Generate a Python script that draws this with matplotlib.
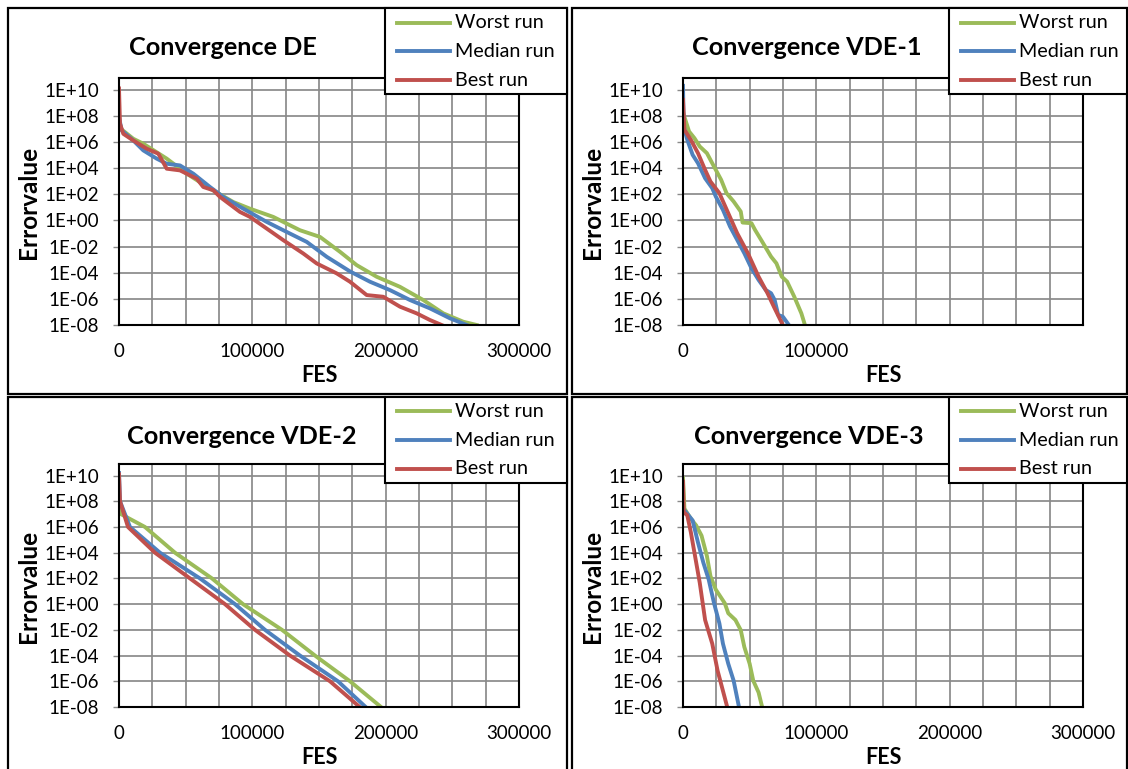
import numpy as np
import matplotlib.pyplot as plt
from matplotlib.patches import Rectangle
from matplotlib.lines import Line2D
from matplotlib.ticker import FixedLocator, FuncFormatter

# =========================
# CONVERGENCE DATA
# FES and log10(error value) per run
# =========================

de_worst_fes = [0, 1500, 10725, 18225, 35775, 50775, 68250, 85725, 98250, 115725,
                135750, 150750, 165750, 178275, 193275, 210750, 228225, 243225,
                258225, 268275]
de_worst_log = [7.6, 7.0, 6.25, 5.87, 4.73, 3.58, 2.44, 1.41, 0.9, 0.27,
                -0.75, -1.26, -2.4, -3.42, -4.31, -5.08, -6.09, -7.11,
                -7.75, -8.0]

de_median_fes = [0, 2025, 10725, 18225, 28275, 35775, 45750, 55725, 68250, 78225,
                 93225, 110775, 125775, 140775, 155775, 173250, 188250, 203250,
                 218250, 233250, 248250, 260775]
de_median_log = [7.9, 6.89, 6.12, 5.36, 4.73, 4.34, 4.21, 3.58, 2.56, 1.8,
                 0.9, -0.11, -0.88, -1.64, -2.78, -3.9, -4.69, -5.33,
                 -6.09, -6.73, -7.49, -8.0]

de_best_fes = [0, 750, 3225, 10725, 20775, 29475, 35775, 45750, 58275, 63225,
               70725, 75750, 90750, 98250, 110775, 123225, 138225, 148275,
               163275, 173250, 185775, 198225, 210750, 223275, 233250, 242000]
de_best_log = [10.1, 7.4, 6.63, 6.12, 5.49, 5.11, 3.96, 3.83, 3.2, 2.56,
               2.31, 1.8, 0.65, 0.27, -0.62, -1.51, -2.53, -3.29,
               -4.05, -4.69, -5.71, -5.84, -6.6, -7.11, -7.62, -8.0]

vde1_worst_fes = [0, 535, 4545, 8557, 12568, 17916, 21927, 24600, 28612, 32623,
                  37971, 43319, 44656, 51341, 54015, 59363, 66048, 70059,
                  74070, 78081, 83429, 88777, 91451]
vde1_worst_log = [8.3, 8.09, 6.81, 6.3, 5.66, 5.15, 4.38, 3.87, 3.11, 2.09,
                  1.45, 0.68, -0.16, -0.21, -0.72, -1.62, -2.77, -3.28,
                  -4.3, -4.68, -5.83, -7.11, -8.0]

vde1_median_fes = [0, 535, 3209, 7220, 11231, 16579, 21927, 24600, 29948, 35296,
                   40644, 45992, 51341, 56689, 62037, 66048, 68722, 71396,
                   74872, 79418]
vde1_median_log = [10.3, 7.19, 6.17, 5.02, 4.38, 3.23, 2.47, 1.83, 0.81, -0.47,
                   -1.49, -2.51, -3.66, -4.55, -5.32, -5.57, -6.08, -7.23,
                   -7.36, -8.0]

vde1_best_fes = [0, 1070, 5883, 11231, 16579, 20590, 27275, 33961, 40644, 48667,
                 56689, 63374, 68722, 74872]
vde1_best_log = [9.23, 6.94, 6.17, 5.15, 3.87, 2.98, 2.09, 0.55, -0.98, -2.51,
                 -4.3, -5.57, -6.72, -8.0]

vde2_worst_fes = [0, 1500, 19500, 42000, 69750, 93000, 122250, 147000, 173250, 196500]
vde2_worst_log = [8.0, 7.0, 6.0, 4.0, 2.0, 0.0, -2.0, -4.0, -6.0, -8.0]

vde2_median_fes = [0, 750, 8250, 30750, 60750, 87000, 109500, 135750, 164250, 185000]
vde2_median_log = [10.2, 8.0, 6.0, 4.0, 2.0, 0.0, -2.0, -4.0, -6.0, -8.0]

vde2_best_fes = [0, 750, 6750, 27000, 53250, 79500, 102000, 128250, 158250, 180500]
vde2_best_log = [10.1, 8.0, 6.0, 4.0, 2.0, 0.0, -2.0, -4.0, -6.0, -8.0]

vde3_worst_fes = [0, 1070, 5883, 9894, 13905, 17916, 20590, 24600, 31286, 33961,
                  39309, 43320, 45994, 50005, 52679, 56690, 59364]
vde3_worst_log = [9.79, 7.43, 6.64, 6.12, 5.33, 3.75, 2.18, 1.13, 0.08, -0.71,
                  -1.23, -2.02, -3.33, -4.64, -5.95, -6.87, -8.0]

vde3_median_fes = [0, 3209, 7220, 11231, 15242, 19253, 23264, 27275, 29949, 33960,
                   37971, 41982]
vde3_median_log = [7.43, 7.03, 6.51, 4.8, 3.23, 1.92, 0.08, -1.49, -3.07, -4.64,
                   -5.95, -8.0]

vde3_best_fes = [0, 535, 3209, 5883, 8557, 12568, 16579, 21927, 25938, 29949, 33158]
vde3_best_log = [9.53, 7.17, 6.9, 5.59, 4.02, 1.66, -1.23, -3.07, -5.17, -6.74, -8.0]

titles = ["Convergence DE", "Convergence VDE-1", "Convergence VDE-2", "Convergence VDE-3"]
run_names = ["Worst run", "Median run", "Best run"]
run_colors = ["#9BBB59", "#4F81BD", "#C0504D"]

panels = [
    [(de_worst_fes, de_worst_log), (de_median_fes, de_median_log), (de_best_fes, de_best_log)],
    [(vde1_worst_fes, vde1_worst_log), (vde1_median_fes, vde1_median_log), (vde1_best_fes, vde1_best_log)],
    [(vde2_worst_fes, vde2_worst_log), (vde2_median_fes, vde2_median_log), (vde2_best_fes, vde2_best_log)],
    [(vde3_worst_fes, vde3_worst_log), (vde3_median_fes, vde3_median_log), (vde3_best_fes, vde3_best_log)],
]

x_labels = [
    [0, 100000, 200000, 300000],
    [0, 100000],
    [0, 100000, 200000, 300000],
    [0, 100000, 200000, 300000],
]

# =========================
# FIGURE LAYOUT (pixels)
# =========================

W, H = 1128, 769
plt.rcParams['font.family'] = ['Lato', 'DejaVu Sans']

fig = plt.figure(figsize=(W / 100, H / 100), dpi=100)


def fx(x):
    return x / W


def fy(y):
    return 1 - y / H


def fig_box(left, top, right, bottom):
    return [fx(left), fy(bottom), (right - left) / W, (bottom - top) / H]


# panel frame, plot area, title position, label rows, legend box
layout = [
    dict(frame=(7.5, 8, 566.5, 394), plot=(119, 78, 519, 325),
         title=(129, 55), fes_y=375, legend=(384.5, 8, 566.5)),
    dict(frame=(571.5, 8, 1127, 394), plot=(683, 78, 1083, 325),
         title=(692, 55), fes_y=375, legend=(948.5, 8, 1127)),
    dict(frame=(7.5, 397, 567, 780), plot=(119, 464, 519, 707),
         title=(127, 443.5), fes_y=757, legend=(384.5, 397, 567)),
    dict(frame=(571.5, 397, 1127, 780), plot=(683, 464, 1083, 707),
         title=(694, 443.5), fes_y=757, legend=(948.5, 397, 1127)),
]

legend_rows = [14.5, 43.3, 72.0]
legend_height = 86.0

for i in range(4):
    lay = layout[i]
    fl, ft, fr, fb = lay['frame']
    pl, pt, pr, pb = lay['plot']

    fig.patches.append(Rectangle((fx(fl), fy(fb)), (fr - fl) / W, (fb - ft) / H,
                                 transform=fig.transFigure, fill=False,
                                 edgecolor='black', linewidth=1.6, zorder=0))

    ax = fig.add_axes(fig_box(pl, pt, pr, pb))

    for (fes, logs), name, color in zip(panels[i], run_names, run_colors):
        ax.plot(fes, 10 ** np.array(logs), color=color, linewidth=2.8,
                label=name, solid_joinstyle='round')

    ax.set_yscale('log')
    ax.set_xlim(0, 300000)
    ax.set_ylim(1e-8, 10 ** 10.9)

    ax.yaxis.set_major_locator(FixedLocator([10.0 ** e for e in range(-8, 11, 2)]))
    ax.yaxis.set_minor_locator(FixedLocator([]))
    ax.yaxis.set_major_formatter(FuncFormatter(
        lambda v, p: "1E%+03d" % int(round(np.log10(v)))))

    shown = x_labels[i]
    ax.xaxis.set_major_locator(FixedLocator(np.arange(0, 300001, 25000)))
    ax.xaxis.set_major_formatter(FuncFormatter(
        lambda v, p, shown=shown: "%d" % v if int(v) in shown else ""))

    ax.grid(True, color='#8a8a8a', linewidth=1.25)
    ax.set_axisbelow(True)
    ax.tick_params(axis='x', length=0, pad=13, labelsize=13.5)
    ax.tick_params(axis='y', length=4.5, width=1.0, color='#8a8a8a',
                   pad=10, labelsize=13.5)
    for side in ax.spines.values():
        side.set_color('black')
        side.set_linewidth(1.5)

    fig.text(fx(lay['title'][0]), fy(lay['title'][1]), titles[i],
             fontsize=18.2, fontweight='bold', ha='left', va='baseline')
    fig.text(fx(fl + 21), fy((pt + pb) / 2 + 1), "Errorvalue",
             fontsize=17.5, fontweight='bold', rotation=90,
             ha='center', va='center')
    fig.text(fx((pl + pr) / 2), fy(lay['fes_y']), "FES",
             fontsize=15.5, fontweight='bold', ha='center', va='center')

    # legend box in the top right corner of the panel
    ll, lt, lr = lay['legend']
    fig.add_artist(Rectangle((fx(ll), fy(lt + legend_height)), (lr - ll) / W,
                             legend_height / H, transform=fig.transFigure,
                             facecolor='white', edgecolor='black',
                             linewidth=1.5, zorder=5))
    for row, name, color in zip(legend_rows, run_names, run_colors):
        fig.add_artist(Line2D([fx(ll + 12.5), fx(ll + 65.5)],
                              [fy(lt + row), fy(lt + row)],
                              transform=fig.transFigure, color=color,
                              linewidth=2.8, zorder=6))
        fig.text(fx(ll + 70.5), fy(lt + row), name, fontsize=14.2,
                 ha='left', va='center', zorder=7)

fig.savefig("out.png", dpi=100)
